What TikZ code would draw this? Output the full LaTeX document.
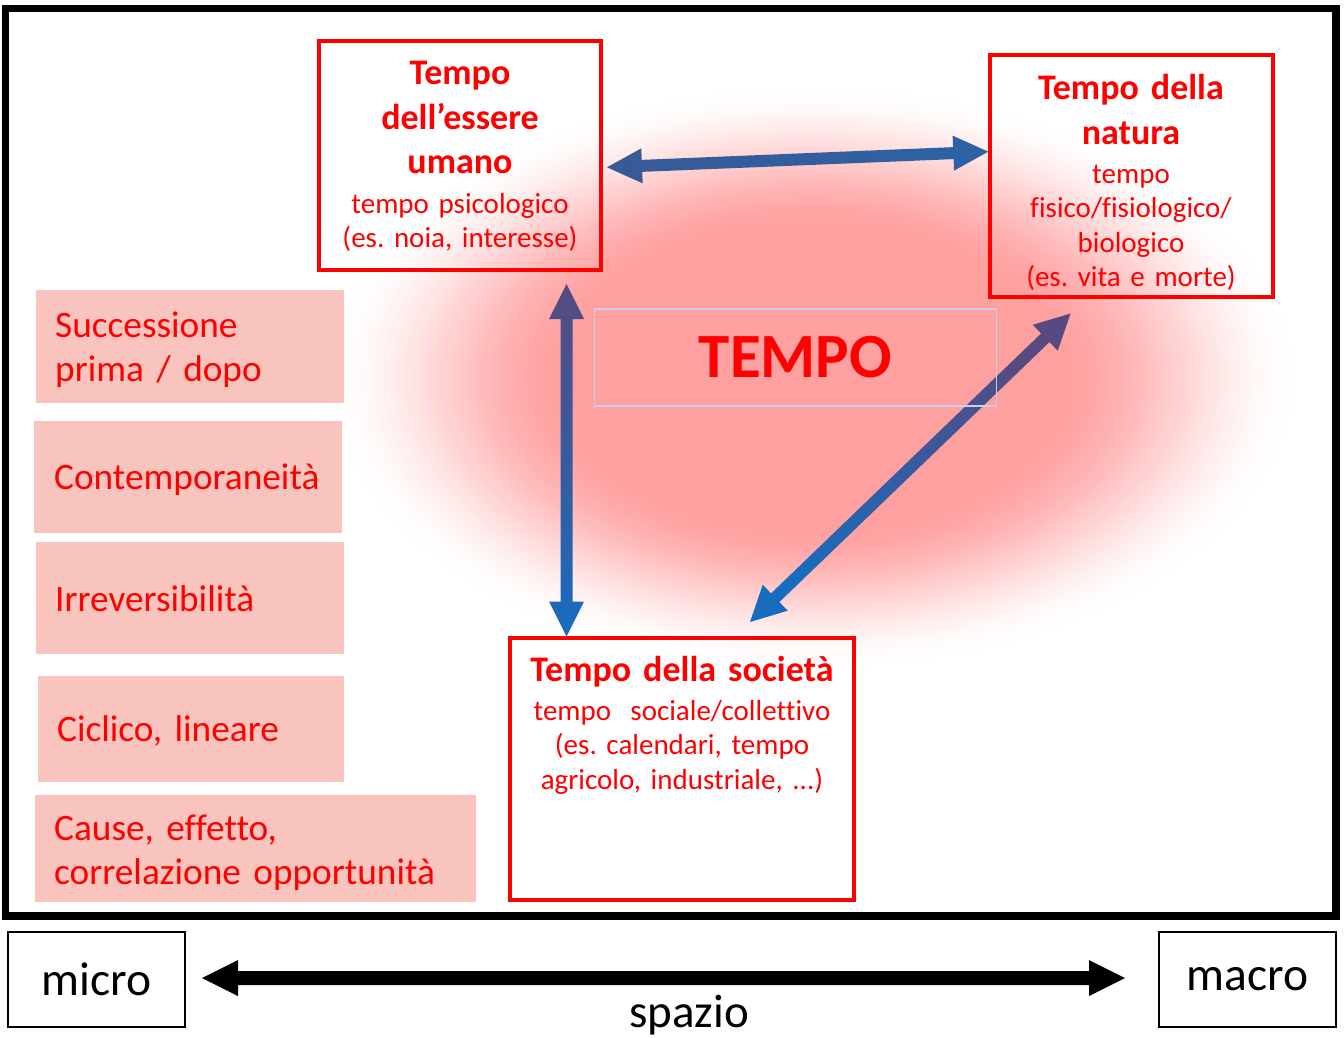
\documentclass[tikz,border=0pt]{standalone}
\usepackage{fontspec}
\setmainfont{Carlito}[Ligatures=NoCommon]
\frenchspacing
\usetikzlibrary{calc}

\definecolor{glowpink}{RGB}{255,160,160}
\definecolor{boxpink}{RGB}{249,196,189}
\definecolor{arrowpurple}{RGB}{86,74,128}
\definecolor{arrowmid}{RGB}{70,80,142}
\definecolor{arrowsky}{RGB}{24,108,190}
\definecolor{tempoframe}{RGB}{200,208,232}

% Double-headed block arrow drawn as one filled outline.
% #1 fill/shade options, #2 start, #3 end, #4 half shaft width,
% #5 half head width, #6 head length
\newcommand\arrowband[6]{%
  \coordinate (bandA) at ($(#2)!#6!(#3)$);
  \coordinate (bandB) at ($(#3)!#6!(#2)$);
  \path[#1] (#2) -- ($(bandA)!#5!90:(#3)$) -- ($(bandA)!#4!90:(#3)$)
    -- ($(bandB)!#4!-90:(#2)$) -- ($(bandB)!#5!-90:(#2)$) -- (#3)
    -- ($(bandB)!#5!90:(#2)$) -- ($(bandB)!#4!90:(#2)$)
    -- ($(bandA)!#4!-90:(#3)$) -- ($(bandA)!#5!-90:(#3)$) -- cycle;
}

\tikzset{
  frame/.style={draw=black, line width=7.5pt},
  redbox/.style={draw=red, line width=4pt, inner sep=0pt, outer sep=0pt},
  pinkbox/.style={fill=boxpink, inner sep=0pt, outer sep=0pt},
  ttl/.style={text=red, font=\bfseries\fontsize{36}{44.5}\selectfont,
    align=center, anchor=base, inner sep=0pt},
  dsc/.style={text=red, font=\fontsize{29}{34.5}\selectfont,
    align=center, anchor=base, inner sep=0pt},
  pinktxt/.style={text=red, font=\fontsize{37.3}{44.3}\selectfont,
    align=left, anchor=base west, inner sep=0pt, text width=430pt},
  scalebox/.style={draw=black, line width=2pt, minimum width=177pt,
    minimum height=95pt, inner sep=0pt, font=\fontsize{47.5}{52}\selectfont},
}

\begin{document}
\begin{tikzpicture}[x=1pt,y=-1pt]
  \useasboundingbox (0,0) rectangle (1344,1038);
  \fill[white] (0,0) rectangle (1344,1038);

  % soft pink glow behind the central area
  \foreach \i in {0,...,48}{
    \pgfmathsetmacro\s{1-\i/96}
    \pgfmathsetmacro\t{\i/48}
    \pgfmathsetmacro\f{100*\t*\t*(3-2*\t)}
    \pgfmathsetmacro\rx{490*\s}
    \pgfmathsetmacro\ry{295*\s}
    \fill[glowpink!\f!white] (812,378) ellipse [x radius=\rx pt, y radius=\ry pt];
  }

  % outer frame
  \draw[frame] (5.5,8.7) rectangle (1336,916);

  % properties of time
  \node[pinkbox, minimum width=308pt, minimum height=113pt] (s1) at (190,346.5) {};
  \node[pinkbox, minimum width=308pt, minimum height=112pt] (s2) at (188,477) {};
  \node[pinkbox, minimum width=308pt, minimum height=112pt] (s3) at (190,598) {};
  \node[pinkbox, minimum width=306pt, minimum height=106pt] (s4) at (191,729) {};
  \node[pinkbox, minimum width=441pt, minimum height=107pt] (s5) at (255.5,848.5) {};
  \node[pinktxt] (s1t) at (55,337) {Successione\\prima / dopo};
  \node[pinktxt] (s2t) at (54,489) {Contemporaneità};
  \node[pinktxt] (s3t) at (55,611) {Irreversibilità};
  \node[pinktxt] (s4t) at (57,741) {Ciclico, lineare};
  \node[pinktxt] (s5t) at (54,840) {Cause, effetto,\\correlazione opportunità};

  % the three kinds of time
  \node[redbox, minimum width=282pt, minimum height=229pt] (umano) at (460,155.5) {};
  \node[redbox, minimum width=282.5pt, minimum height=242pt] (natura) at (1131.25,176) {};
  \node[redbox, minimum width=344pt, minimum height=262pt] (societa) at (682,768.5) {};

  % connectors between the kinds of time
  \coordinate (hL) at (607,167.3);
  \coordinate (hR) at (988.3,151.7);
  \coordinate (vT) at (566.5,284);
  \coordinate (vB) at (566.5,636.5);
  \coordinate (dT) at (1070.5,313.5);
  \coordinate (dB) at (750,622);
  \arrowband{left color={rgb,255:red,56;green,90;blue,150}, right color={rgb,255:red,44;green,98;blue,166}}{hL}{hR}{6pt}{17.5pt}{35pt}
  \arrowband{top color=arrowpurple, middle color=arrowmid, bottom color=arrowsky}{vT}{vB}{6pt}{17.5pt}{35pt}
  \arrowband{top color=arrowpurple, middle color=arrowmid, bottom color=arrowsky, shading angle=-45}{dT}{dB}{6pt}{18pt}{35pt}

  % central label
  \node[draw=tempoframe, line width=1.5pt, minimum width=402pt, minimum height=97pt,
    inner sep=0pt, text=red, font=\bfseries\fontsize{63}{70}\selectfont] (tempo) at (795.5,357.5) {TEMPO};

  % box texts
  \node[ttl, text width=280pt] (umanoT) at (460,85) {Tempo\\dell’essere\\umano};
  \node[dsc, text width=280pt] (umanoD) at (460,213) {tempo psicologico\\(es. noia, interesse)};
  \node[ttl, text width=280pt] (naturaT) at (1131,100) {Tempo della\\natura};
  \node[dsc, text width=280pt] (naturaD) at (1131,183) {tempo\\fisico/fisiologico/\\biologico\\(es. vita e morte)};
  \node[ttl, text width=340pt] (societaT) at (682,681) {Tempo della società};
  \node[dsc, text width=340pt] (societaD) at (682,720) {tempo\ \ sociale/collettivo\\(es. calendari, tempo\\agricolo, industriale, ...)};

  % spatial scale
  \node[scalebox] (micro) at (96.5,979.5) {micro};
  \node[scalebox] (macro) at (1247.5,979.5) {macro};
  \coordinate (spL) at (202,978);
  \coordinate (spR) at (1125,978);
  \arrowband{fill=black}{spL}{spR}{7pt}{18pt}{36pt}
  \node[font=\fontsize{47}{52}\selectfont, anchor=base, inner sep=0pt] (spazio) at (689,1027) {spazio};
\end{tikzpicture}
\end{document}
